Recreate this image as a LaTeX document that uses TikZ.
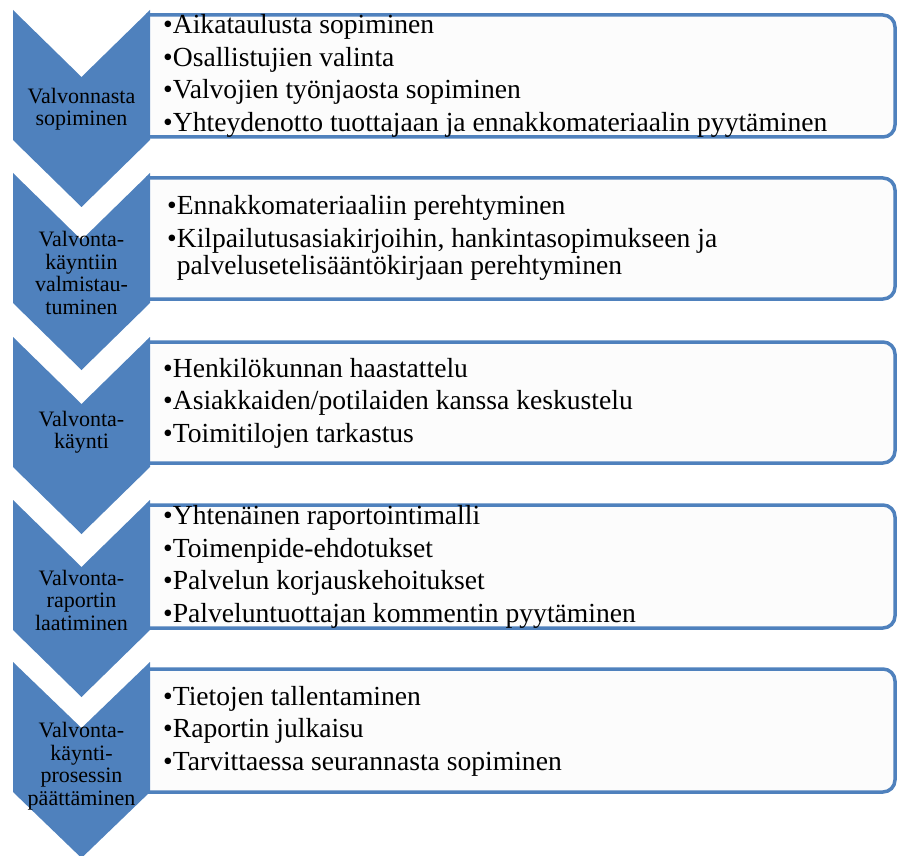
\documentclass[tikz,border=0pt]{standalone}
\usepackage{fontspec}
\setmainfont{Liberation Serif}
\usepackage{tikz}
\definecolor{accent}{RGB}{79,129,189}
\definecolor{paper}{RGB}{252,252,252}
\tikzstyle{chevron}=[
	fill=accent
]
\tikzstyle{frame}=[
	draw=accent,
	line width=3.5pt,
	fill=paper
]
\tikzstyle{stage}=[
	align=center,
	inner sep=0pt,
	font=\fontsize{22}{22.5}\selectfont
]
\tikzstyle{items}=[
	anchor=west,
	align=left,
	inner sep=0pt,
	font=\fontsize{27.6}{32.5}\selectfont
]

\begin{document}
\begin{tikzpicture}[x=1pt,y=-1pt]
\useasboundingbox (0,0) rectangle (898,856);
% laatikot
\draw [frame] (148,15) -- (883,15) arc[start angle=90,end angle=0,radius=12pt] -- (895,125) arc[start angle=0,end angle=-90,radius=12pt] -- (148,137) -- cycle;
\draw [frame] (148,178) -- (883,178) arc[start angle=90,end angle=0,radius=12pt] -- (895,287) arc[start angle=0,end angle=-90,radius=12pt] -- (148,299) -- cycle;
\draw [frame] (148,342) -- (883,342) arc[start angle=90,end angle=0,radius=12pt] -- (895,451) arc[start angle=0,end angle=-90,radius=12pt] -- (148,463) -- cycle;
\draw [frame] (148,505) -- (883,505) arc[start angle=90,end angle=0,radius=12pt] -- (895,616) arc[start angle=0,end angle=-90,radius=12pt] -- (148,628) -- cycle;
\draw [frame] (148,669) -- (883,669) arc[start angle=90,end angle=0,radius=12pt] -- (895,780) arc[start angle=0,end angle=-90,radius=12pt] -- (148,792) -- cycle;
% nuolet
\fill [chevron] (13,10) -- (81.5,77) -- (150,10) -- (150,140) -- (81.5,207) -- (13,140) -- cycle;
\fill [chevron] (13,173) -- (81.5,240) -- (150,173) -- (150,303) -- (81.5,370) -- (13,303) -- cycle;
\fill [chevron] (13,337) -- (81.5,404) -- (150,337) -- (150,467) -- (81.5,534) -- (13,467) -- cycle;
\fill [chevron] (13,500) -- (81.5,567) -- (150,500) -- (150,630) -- (81.5,697) -- (13,630) -- cycle;
\fill [chevron] (13,662) -- (81.5,728) -- (150,662) -- (150,792) -- (81.5,858) -- (13,792) -- cycle;
% vaiheet
\node [stage] (Sopiminen) at (81.5,109) {Valvonnasta\\sopiminen};
\node [stage] (Valmistautuminen) at (81.5,273) {Valvonta-\\käyntiin\\valmistau-\\tuminen};
\node [stage] (Kaynti) at (81.5,432) {Valvonta-\\käynti};
\node [stage] (Raportti) at (81.5,600) {Valvonta-\\raportin\\laatiminen};
\node [stage] (Paattaminen) at (81.5,766) {Valvonta-\\käynti-\\prosessin\\päättäminen};
% sisallot
\node [items] (SopiminenList) at (163,76) {•Aikataulusta sopiminen\\•Osallistujien valinta\\•Valvojien työnjaosta sopiminen\\•Yhteydenotto tuottajaan ja ennakkomateriaalin pyytäminen};
\node [items] (ValmistautuminenList) at (167,238) {•Ennakkomateriaaliin perehtyminen\\•Kilpailutusasiakirjoihin, hankintasopimukseen ja\\[-5pt]\phantom{•}palvelusetelisääntökirjaan perehtyminen};
\node [items] (KayntiList) at (163,403) {•Henkilökunnan haastattelu\\•Asiakkaiden/potilaiden kanssa keskustelu\\•Toimitilojen tarkastus};
\node [items] (RaporttiList) at (163,567) {•Yhtenäinen raportointimalli\\•Toimenpide-ehdotukset\\•Palvelun korjauskehoitukset\\•Palveluntuottajan kommentin pyytäminen};
\node [items] (PaattaminenList) at (163,731) {•Tietojen tallentaminen\\•Raportin julkaisu\\•Tarvittaessa seurannasta sopiminen};
\end{tikzpicture}
\end{document}
